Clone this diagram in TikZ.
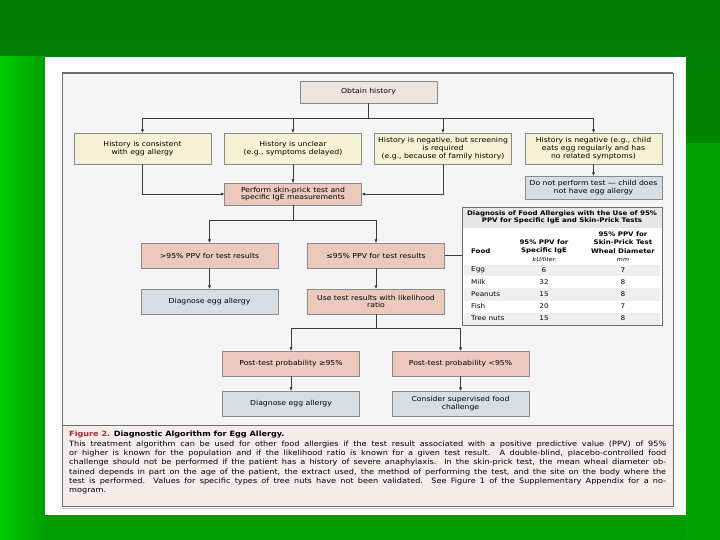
\documentclass[tikz,border=0pt]{standalone}
\usepackage{fontspec}
\setmainfont{DejaVu Sans}[FakeStretch=1.12]
\usetikzlibrary{positioning,arrows.meta,calc}

\definecolor{greentop}{HTML}{007C00}
\definecolor{greenbot}{HTML}{009E00}
\definecolor{greenleft}{HTML}{00CC00}
\definecolor{greenright}{HTML}{00A200}
\definecolor{panelwhite}{HTML}{FDFDFD}
\definecolor{diagbg}{HTML}{F5F5F5}
\definecolor{capbg}{HTML}{F3ECE8}
\definecolor{framecol}{HTML}{6E6E6E}
\definecolor{boxline}{HTML}{8A8A8A}
\definecolor{linkgray}{HTML}{3C3C3C}
\definecolor{histfill}{HTML}{EDE6DE}
\definecolor{askfill}{HTML}{F6F0D4}
\definecolor{testfill}{HTML}{EBC9BC}
\definecolor{resultfill}{HTML}{D6DEE4}
\definecolor{tabband}{HTML}{E6E6E6}
\definecolor{tabrow}{HTML}{EFEFEF}
\definecolor{figred}{HTML}{B0282E}

\begin{document}
\begin{tikzpicture}[
  x=1bp,y=-1bp,
  font=\fontsize{6.9}{7.7}\selectfont,
  stage/.style={draw=boxline,line width=0.7bp,minimum width=137bp,minimum height=25bp,inner sep=1bp,align=center},
  historybox/.style={stage,fill=histfill,minimum height=22bp},
  askbox/.style={stage,fill=askfill,minimum height=31bp},
  testbox/.style={stage,fill=testfill},
  resultbox/.style={stage,fill=resultfill},
  arrow/.style={-{Triangle[length=3.2bp,width=2.8bp]},line width=0.6bp,draw=linkgray},
  link/.style={line width=0.6bp,draw=linkgray},
  tabtitle/.style={font=\fontsize{6.3}{7.4}\selectfont\bfseries,align=center,inner sep=0},
  tabhead/.style={font=\fontsize{6.3}{8.4}\selectfont\bfseries,align=center,inner sep=0},
  tabunit/.style={font=\fontsize{5.6}{6}\selectfont\itshape,inner sep=0},
  tabcell/.style={font=\fontsize{6.5}{7}\selectfont,inner sep=0},
]
  \useasboundingbox (0,0) rectangle (720,540);

  % Slide background and figure panel.
  \shade[top color=greentop,bottom color=greenbot] (0,0) rectangle (720,540);
  \shade[left color=greenleft,right color=greenbot] (0,57) rectangle (45,540);
  \fill[greenright] (686,143) rectangle (720,540);
  \fill[panelwhite] (45,57) rectangle (686,515);
  \fill[diagbg] (62,73) rectangle (673,425);
  \fill[capbg] (62,425) rectangle (673,506);
  \draw[framecol,line width=0.9bp] (62,73) rectangle (673,506);
  \draw[framecol,line width=0.9bp] (62,425) -- (673,425);
  \draw[framecol,line width=1.4bp] (62,73) -- (673,73);
  \draw[gray!45,line width=1.6bp] (62,508.6) -- (673,508.6);

  % History row.
  \node[historybox] (history) at (368.5,92) {Obtain history};
  \node[askbox] (consistent) at (142.5,148.5) {History is consistent\\with egg allergy};
  \node[askbox] (unclear) at (293,148.5) {History is unclear\\(e.g., symptoms delayed)};
  \node[askbox] (screening) at (443,148.5) {History is negative, but screening\\is required\\(e.g., because of family history)};
  \node[askbox] (negative) at (593.5,148.5) {History is negative (e.g., child\\eats egg regularly and has\\no related symptoms)};
  \node[resultbox,minimum height=23bp] (notest) at (593.5,187.5) {Do not perform test — child does\\not have egg allergy};

  \draw[arrow] (history.south) -- ++(0,15) -| (consistent.north);
  \draw[arrow] (history.south) -- ++(0,15) -| (unclear.north);
  \draw[arrow] (history.south) -- ++(0,15) -| (screening.north);
  \draw[arrow] (history.south) -- ++(0,15) -| (negative.north);
  \draw[arrow] (negative) -- (notest);

  % Testing.
  \node[testbox,minimum height=22bp] (skin) at (293,194) {Perform skin-prick test and\\specific IgE measurements};
  \draw[arrow] (consistent.south) |- (skin.west);
  \draw[arrow] (unclear) -- (skin);
  \draw[arrow] (screening.south) |- (skin.east);

  \node[testbox] (high) at (209.5,255.5) {>95\% PPV for test results};
  \node[testbox] (low) at (376,255.5) {≤95\% PPV for test results};
  \node[resultbox] (diagA) at (209.5,301.5) {Diagnose egg allergy};
  \node[testbox] (ratio) at (376,301.5) {Use test results with likelihood\\ratio};

  \draw[arrow] (skin.south) -- ++(0,15) -| (high.north);
  \draw[arrow] (skin.south) -- ++(0,15) -| (low.north);
  \draw[arrow] (high) -- (diagA);
  \draw[arrow] (low) -- (ratio);

  \node[testbox] (postA) at (291,363.5) {Post-test probability ≥95\%};
  \node[testbox] (postB) at (460.5,363.5) {Post-test probability <95\%};
  \node[resultbox] (diagB) at (291,403.5) {Diagnose egg allergy};
  \node[resultbox] (challenge) at (460.5,403.5) {Consider supervised food\\challenge};

  \draw[arrow] (ratio.south) -- ++(0,14) -| (postA.north);
  \draw[arrow] (ratio.south) -- ++(0,14) -| (postB.north);
  \draw[arrow] (postA) -- (diagB);
  \draw[arrow] (postB) -- (challenge);

  % PPV table.
  \fill[white] (462,207) rectangle (662,325);
  \fill[tabband] (462,207) rectangle (662,228);
  \fill[tabrow] (464,264.5) rectangle (660,276);
  \fill[tabrow] (464,288) rectangle (660,300.5);
  \fill[tabrow] (464,312.5) rectangle (660,324.5);
  \node[draw=framecol,line width=0.9bp,minimum width=200bp,minimum height=118bp,inner sep=0] (tbl) at (562,266) {};
  \draw[link] (low.east) -- (low.east -| tbl.west);

  \node[tabtitle] (tabname) at (562,217.5) {Diagnosis of Food Allergies with the Use of 95\%\\PPV for Specific IgE and Skin-Prick Tests};
  \node[tabhead,anchor=west] (hfood) at (471,251) {Food};
  \node[tabhead] (hige) at (544,246.5) {95\% PPV for\\Specific IgE};
  \node[tabhead] (hwheal) at (623,242.3) {95\% PPV for\\Skin-Prick Test\\Wheal Diameter};
  \node[tabunit] (uige) at (544,260) {kU/liter};
  \node[tabunit] (uwheal) at (623,260) {mm};

  \node[tabcell,anchor=west] (egg) at (471,270.2) {Egg};
  \node[tabcell] (eggige) at (544,270.2) {6};
  \node[tabcell] (eggwheal) at (623,270.2) {7};
  \node[tabcell,anchor=west] (milk) at (471,282) {Milk};
  \node[tabcell] (milkige) at (544,282) {32};
  \node[tabcell] (milkwheal) at (623,282) {8};
  \node[tabcell,anchor=west] (peanut) at (471,294.2) {Peanuts};
  \node[tabcell] (peanutige) at (544,294.2) {15};
  \node[tabcell] (peanutwheal) at (623,294.2) {8};
  \node[tabcell,anchor=west] (fish) at (471,306.5) {Fish};
  \node[tabcell] (fishige) at (544,306.5) {20};
  \node[tabcell] (fishwheal) at (623,306.5) {7};
  \node[tabcell,anchor=west] (nut) at (471,318.5) {Tree nuts};
  \node[tabcell] (nutige) at (544,318.5) {15};
  \node[tabcell] (nutwheal) at (623,318.5) {8};

  % Caption.
  \node[anchor=north west,inner sep=0,text width=597bp,align=justify,
        font=\fontsize{7.3}{9.4}\selectfont] (caption) at (69,431)
    {{\bfseries\color{figred}Figure 2.} \textbf{Diagnostic Algorithm for Egg Allergy.}\\
     This treatment algorithm can be used for other food allergies if the test result associated with a positive predictive value (PPV) of 95\%\linebreak
     or higher is known for the population and if the likelihood ratio is known for a given test result. A double-blind, placebo-controlled food\linebreak
     challenge should not be performed if the patient has a history of severe anaphylaxis. In the skin-prick test, the mean wheal diameter ob-\linebreak
     tained depends in part on the age of the patient, the extract used, the method of performing the test, and the site on the body where the\linebreak
     test is performed. Values for specific types of tree nuts have not been validated. See Figure 1 of the Supplementary Appendix for a no-\linebreak
     mogram.};

\end{tikzpicture}
\end{document}
